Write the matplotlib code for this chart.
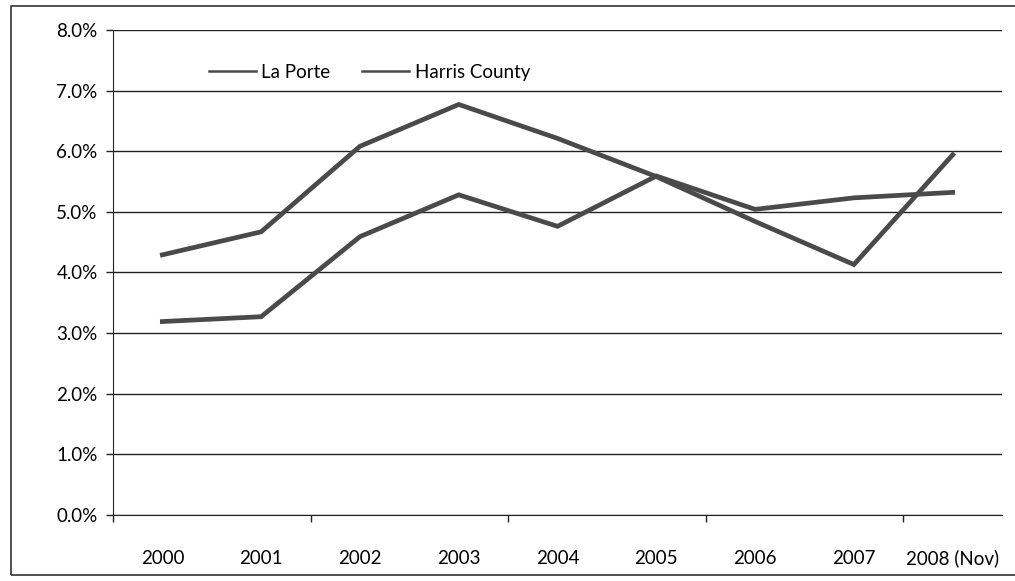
import matplotlib.pyplot as plt
from matplotlib.patches import Rectangle
from matplotlib.lines import Line2D
from matplotlib.ticker import FuncFormatter, FixedLocator

# unemployment rate, percent
years = ['2000', '2001', '2002', '2003', '2004', '2005', '2006', '2007', '2008 (Nov)']
la_porte = [3.19, 3.27, 4.59, 5.28, 4.76, 5.59, 5.04, 5.23, 5.32]
harris_county = [4.29, 4.67, 6.08, 6.77, 6.21, 5.58, 4.84, 4.13, 5.94]

plt.rcParams['font.family'] = ['Lato', 'DejaVu Sans']
fs = 13.5

fig = plt.figure(figsize=(10.15, 5.81), dpi=100)
ax = fig.add_axes([0.1113, 0.1136, 0.876, 0.835])

line_color = '#4a4a4a'
x = list(range(len(years)))
ax.plot(x, la_porte, color=line_color, lw=3.4, solid_joinstyle='miter', label='La Porte')
ax.plot(x, harris_county, color=line_color, lw=3.4, solid_joinstyle='miter', label='Harris County')

ax.set_xlim(-0.5, len(years) - 0.5)
ax.set_ylim(0, 8)
ax.set_yticks([i for i in range(9)])
ax.yaxis.set_major_formatter(FuncFormatter(lambda v, p: '{:.1f}%'.format(v)))
ax.yaxis.grid(True, color='#222222', lw=1.0)
ax.set_axisbelow(True)

# category labels centred, tick marks every second boundary
ax.xaxis.set_major_locator(FixedLocator([-0.5, 1.5, 3.5, 5.5, 7.5]))
ax.set_xticklabels([])
ax.xaxis.set_minor_locator(FixedLocator(x))
ax.set_xticklabels(years, minor=True)
ax.tick_params(axis='x', which='minor', length=0, pad=25, labelsize=fs)
ax.tick_params(axis='x', which='major', length=5, width=1, direction='out', color='#222222')
ax.tick_params(axis='y', length=5, width=1, color='#222222', labelsize=fs, pad=6)

for s in ['top', 'right']:
    ax.spines[s].set_visible(False)
ax.spines['left'].set_color('#222222')
ax.spines['bottom'].set_color('#222222')

handles = [Line2D([], [], color=line_color, lw=1.8) for _ in range(2)]
ax.legend(handles, ['La Porte', 'Harris County'], loc='center left',
          bbox_to_anchor=(0.089, 0.913), ncol=2, frameon=False,
          fontsize=fs, handlelength=2.5, handletextpad=0.3, columnspacing=1.7)

# chart border
fig.patches.append(Rectangle((0.011, 0.01), 0.995, 0.98, transform=fig.transFigure,
                             fill=False, edgecolor='#333333', lw=1.2))

fig.savefig('out.png', dpi=100)
